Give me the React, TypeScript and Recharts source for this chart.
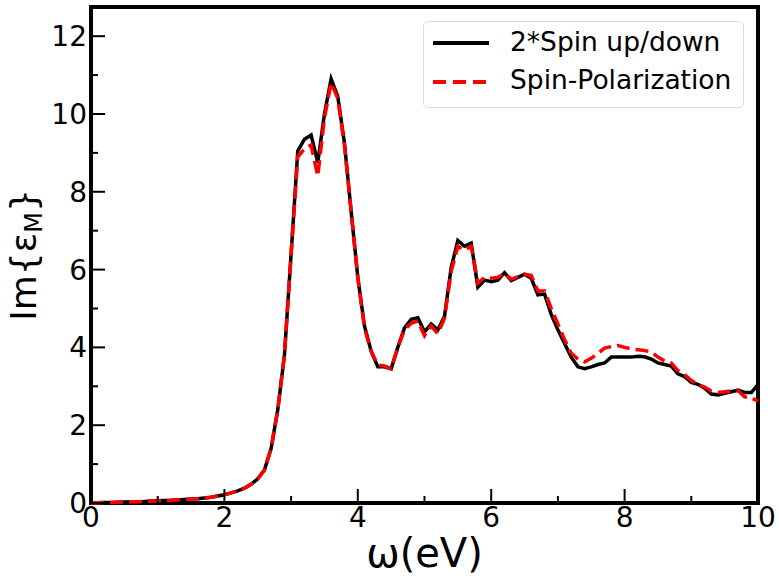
import React from "react";
import {
  Legend,
  Line,
  LineChart,
  ReferenceArea,
  XAxis,
  YAxis,
} from "recharts";

const omega = [
  0.0, 0.1, 0.2, 0.3, 0.4, 0.5, 0.6, 0.7, 0.8, 0.9,
  1.0, 1.1, 1.2, 1.3, 1.4, 1.5, 1.6, 1.7, 1.8, 1.9,
  2.0, 2.1, 2.2, 2.3, 2.4, 2.5, 2.6, 2.7, 2.8, 2.9,
  3.0, 3.1, 3.2, 3.3, 3.4, 3.5, 3.6, 3.7, 3.8, 3.9,
  4.0, 4.1, 4.2, 4.3, 4.4, 4.5, 4.6, 4.7, 4.8, 4.9,
  5.0, 5.1, 5.2, 5.3, 5.4, 5.5, 5.6, 5.7, 5.8, 5.9,
  6.0, 6.1, 6.2, 6.3, 6.4, 6.5, 6.6, 6.7, 6.8, 6.9,
  7.0, 7.1, 7.2, 7.3, 7.4, 7.5, 7.6, 7.7, 7.8, 7.9,
  8.0, 8.1, 8.2, 8.3, 8.4, 8.5, 8.6, 8.7, 8.8, 8.9,
  9.0, 9.1, 9.2, 9.3, 9.4, 9.5, 9.6, 9.7, 9.8, 9.9,
  10.0,
];

// 2*Spin up/down
const spinUpDown = [
  0.0, 0.005, 0.01, 0.015, 0.02, 0.025, 0.03, 0.035, 0.04, 0.05,
  0.06, 0.065, 0.07, 0.08, 0.09, 0.1, 0.11, 0.13, 0.15, 0.18,
  0.21, 0.26, 0.31, 0.38, 0.48, 0.62, 0.85, 1.4, 2.4, 3.8,
  6.4, 9.05, 9.35, 9.46, 8.75, 10.0, 10.9, 10.45, 9.25, 7.5,
  5.8, 4.55, 3.9, 3.5, 3.5, 3.45, 4.0, 4.5, 4.72, 4.76,
  4.4, 4.6, 4.45, 4.8, 6.05, 6.75, 6.6, 6.68, 5.55, 5.73,
  5.69, 5.73, 5.92, 5.72, 5.8, 5.88, 5.78, 5.35, 5.37, 4.85,
  4.45, 4.1, 3.75, 3.5, 3.45, 3.5, 3.56, 3.6, 3.75, 3.75,
  3.75, 3.75, 3.77, 3.76, 3.7, 3.6, 3.56, 3.52, 3.32, 3.25,
  3.1, 3.05, 2.95, 2.8, 2.78, 2.82, 2.86, 2.9, 2.84, 2.84,
  3.05,
];

// Spin-Polarization
const spinPol = [
  0.0, 0.005, 0.01, 0.015, 0.02, 0.025, 0.03, 0.035, 0.04, 0.05,
  0.06, 0.065, 0.07, 0.08, 0.09, 0.1, 0.11, 0.13, 0.15, 0.18,
  0.21, 0.26, 0.31, 0.38, 0.48, 0.62, 0.85, 1.4, 2.4, 3.8,
  6.4, 8.9, 9.1, 9.2, 8.4, 9.9, 10.8, 10.4, 9.2, 7.5,
  5.8, 4.5, 3.9, 3.55, 3.52, 3.45, 4.0, 4.45, 4.62, 4.68,
  4.3, 4.55, 4.35, 4.75, 5.95, 6.6, 6.5, 6.6, 5.65, 5.8,
  5.78, 5.8, 5.9, 5.75, 5.82, 5.88, 5.85, 5.45, 5.45, 5.0,
  4.6, 4.2, 3.85, 3.7, 3.63, 3.72, 3.85, 3.98, 4.02, 4.05,
  4.0, 3.96, 3.94, 3.92, 3.88, 3.75, 3.65, 3.6, 3.4, 3.3,
  3.15, 3.05, 2.98, 2.88, 2.84, 2.86, 2.88, 2.89, 2.73, 2.7,
  2.62,
];

const xTicks = [0, 1, 2, 3, 4, 5, 6, 7, 8, 9, 10];
const yTicks = [0, 1, 2, 3, 4, 5, 6, 7, 8, 9, 10, 11, 12];
const Y_MAX = 12.75;

const data = omega.map((w, i) => ({
  w,
  updown: spinUpDown[i],
  pol: spinPol[i],
}));

const FONT = "DejaVu Sans";

function XTick(props: any) {
  const { x, y, payload } = props;
  const major = payload.value % 2 === 0;
  return (
    <g>
      <line x1={x} x2={x} y1={y} y2={y - (major ? 14 : 7)} stroke="#000" strokeWidth={2} />
      {major && (
        <text x={x} y={y + 24} textAnchor="middle" fontSize={28} fontFamily={FONT} fill="#000">
          {payload.value}
        </text>
      )}
    </g>
  );
}

function YTick(props: any) {
  const { x, y, payload } = props;
  const major = payload.value % 2 === 0;
  return (
    <g>
      <line x1={x} x2={x + (major ? 14 : 7)} y1={y} y2={y} stroke="#000" strokeWidth={2} />
      {major && (
        <text x={x - 4} y={y + 10} textAnchor="end" fontSize={28} fontFamily={FONT} fill="#000">
          {payload.value}
        </text>
      )}
    </g>
  );
}

function XLabel(props: any) {
  const { viewBox } = props;
  return (
    <text
      x={viewBox.x + viewBox.width / 2}
      y={viewBox.y + 64}
      textAnchor="middle"
      fontSize={40}
      fontFamily={FONT}
      fill="#000"
    >
      ω(eV)
    </text>
  );
}

function YLabel(props: any) {
  const { viewBox } = props;
  const cx = viewBox.x + 36;
  const cy = viewBox.y + viewBox.height / 2;
  return (
    <text
      x={cx}
      y={cy}
      transform={`rotate(-90, ${cx}, ${cy})`}
      textAnchor="middle"
      fontSize={36}
      fontFamily={FONT}
      fill="#000"
    >
      Im{"{"}ε
      <tspan fontSize={24} dy={6}>M</tspan>
      <tspan dy={-6}>{"}"}</tspan>
    </text>
  );
}

function LegendBox() {
  const rows = [
    { label: "2*Spin up/down", color: "#000", dash: undefined },
    { label: "Spin-Polarization", color: "#ff0000", dash: "13 7" },
  ];
  return (
    <div
      style={{
        position: "relative",
        width: 321,
        height: 87,
        border: "1px solid #dcdcdc",
        borderRadius: 5,
        background: "#fff",
        fontFamily: FONT,
        boxSizing: "border-box",
      }}
    >
      {rows.map((r, i) => (
        <div key={r.label} style={{ position: "absolute", left: 0, top: 4 + i * 38.5, height: 34, width: "100%" }}>
          <svg width={70} height={34} style={{ position: "absolute", left: 0, top: 0 }}>
            <line x1={9} x2={65} y1={17} y2={17} stroke={r.color} strokeWidth={4} strokeDasharray={r.dash} />
          </svg>
          <span
            style={{
              position: "absolute",
              left: 86,
              top: -1.5,
              fontSize: 26.5,
              lineHeight: "34px",
              color: "#000",
              whiteSpace: "nowrap",
            }}
          >
            {r.label}
          </span>
        </div>
      ))}
    </div>
  );
}

export default function App() {
  return (
    <div style={{ position: "absolute", left: 0, top: 0, background: "#fff" }}>
      <LineChart
        width={779}
        height={578}
        data={data}
        margin={{ top: 7, right: 21, bottom: 0, left: 0 }}
      >
        <XAxis
          dataKey="w"
          type="number"
          domain={[0, 10]}
          ticks={xTicks}
          interval={0}
          height={75}
          tickSize={0}
          tickMargin={0}
          tickLine={false}
          tick={<XTick />}
          axisLine={false}
          label={<XLabel />}
        />
        <YAxis
          type="number"
          domain={[0, Y_MAX]}
          ticks={yTicks}
          interval={0}
          width={91}
          tickSize={0}
          tickMargin={0}
          tickLine={false}
          tick={<YTick />}
          axisLine={false}
          label={<YLabel />}
        />
        <Line
          dataKey="updown"
          stroke="#000"
          strokeWidth={3.5}
          dot={false}
          isAnimationActive={false}
        />
        <Line
          dataKey="pol"
          stroke="#ff0000"
          strokeWidth={3.5}
          strokeDasharray="13 6"
          dot={false}
          isAnimationActive={false}
        />
        <ReferenceArea
          x1={0}
          x2={10}
          y1={0}
          y2={Y_MAX}
          fill="none"
          stroke="#000"
          strokeWidth={4}
        />
        <Legend
          layout="vertical"
          align="center"
          verticalAlign="middle"
          content={<LegendBox />}
          wrapperStyle={{ top: 21, left: 423, width: 321 }}
        />
      </LineChart>
    </div>
  );
}
